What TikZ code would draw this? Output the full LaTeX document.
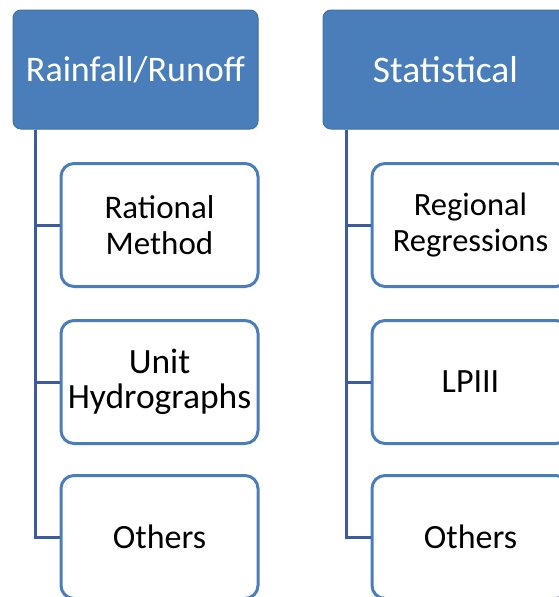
\documentclass[tikz,border=0pt]{standalone}
\usepackage{fontspec}
\setmainfont{Carlito}
\definecolor{hdrfill}{HTML}{4A7EBB}
\definecolor{hdrdraw}{HTML}{41719C}
\definecolor{boxdraw}{HTML}{4A7EBB}
\definecolor{linkcol}{HTML}{3D5C9E}
\newcommand{\fsz}[1]{\fontsize{#1}{35.5}\selectfont}
\begin{document}
\begin{tikzpicture}[x=1pt,y=-1pt,
  header/.style={draw=hdrdraw, line width=1pt, fill=hdrfill, rounded corners=8pt,
    minimum width=245pt, minimum height=119pt, text=white, inner sep=0pt},
  child/.style={draw=boxdraw, line width=3pt, fill=white, rounded corners=13pt,
    minimum width=197pt, minimum height=123pt, text=black, align=center, inner sep=0pt},
  link/.style={draw=linkcol, line width=3pt}]
\useasboundingbox (0,0) rectangle (559,597);
\begin{scope}
\clip (0,0) rectangle (559,597);
\node[header, font=\fsz{36}] (h1) at (135.5,69.5) {Rainfall/Runoff};
\node[header, font=\fsz{37.5}] (h2) at (445.5,69.5) {Statistical};
\node[child, font=\fsz{33}] (a1) at (159.5,225) {Rational\\Method};
\node[child, font=\fsz{35.5}] (a2) at (159.5,382) {Unit\\Hydrographs};
\node[child, font=\fsz{34}] (a3) at (159.5,537) {Others};
\node[child, font=\fsz{32.5}] (b1) at (470.5,225) {Regional\\Regressions};
\node[child, font=\fsz{34}] (b2) at (470.5,382) {LPIII};
\node[child, font=\fsz{34}] (b3) at (470.5,537) {Others};
\coordinate (ta) at (h1.south west -| 35,0);
\coordinate (tb) at (h2.south west -| 346,0);
\draw[link] (ta) |- (a1.west);
\draw[link] (ta) |- (a2.west);
\draw[link] (ta) |- (a3.west);
\draw[link] (tb) |- (b1.west);
\draw[link] (tb) |- (b2.west);
\draw[link] (tb) |- (b3.west);
\end{scope}
\end{tikzpicture}
\end{document}
